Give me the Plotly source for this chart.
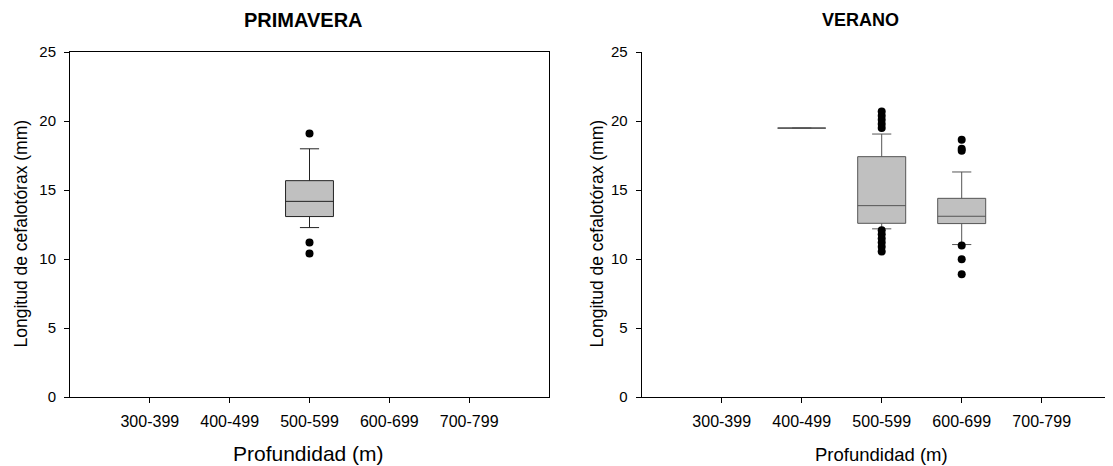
import plotly.graph_objects as go

W, H = 1113, 466

categories = ["300-399", "400-499", "500-599", "600-699", "700-799"]

# PRIMAVERA (spring): box stats per category
prim_cat = ["500-599"]
prim_q1 = [13.09]
prim_med = [14.19]
prim_q3 = [15.69]
prim_lo = [12.29]
prim_hi = [18.0]
prim_out = {"500-599": [19.11, 11.21, 10.41]}

# VERANO (summer)
ver_cat = ["400-499", "500-599", "600-699"]
ver_q1 = [19.5, 12.60, 12.58]
ver_med = [19.5, 13.88, 13.11]
ver_q3 = [19.5, 17.43, 14.41]
ver_lo = [19.5, 12.2, 11.06]
ver_hi = [19.5, 19.07, 16.32]
ver_out = {
    "500-599": [20.7, 20.4, 20.1, 19.8, 19.5, 12.1, 11.8, 11.5, 11.2, 10.9, 10.55],
    "600-699": [18.65, 18.0, 17.85, 11.0, 10.0, 8.9],
}

yticks = [0, 5, 10, 15, 20, 25]

FONT = "Arial, Liberation Sans, sans-serif"

# effective drawing canvas inside the page (observed): offset and size
X0, Y0, CW, CH = 8, 16, 1113, 450


def fx(px):
    return (px - X0) / CW


def fy(py):
    return 1 - (py - Y0) / CH


def pos(c):
    return categories.index(c) + 1


fig = go.Figure()


def add_panel(cats, q1, med, q3, lo, hi, outs, xa, ya, lcol):
    fig.add_trace(go.Box(
        x=[pos(c) for c in cats], q1=q1, median=med, q3=q3,
        lowerfence=lo, upperfence=hi, width=0.6, whiskerwidth=0.4,
        fillcolor="#C0C0C0", line=dict(color=lcol, width=1),
        boxpoints=False, xaxis=xa, yaxis=ya, showlegend=False,
        hoverinfo="skip"))
    ox, oy = [], []
    for c, vals in outs.items():
        for v in vals:
            ox.append(pos(c))
            oy.append(v)
    fig.add_trace(go.Scatter(
        x=ox, y=oy, mode="markers",
        marker=dict(color="black", size=8), xaxis=xa, yaxis=ya,
        showlegend=False, hoverinfo="skip"))


add_panel(prim_cat, prim_q1, prim_med, prim_q3, prim_lo, prim_hi, prim_out, "x", "y", "#222222")
add_panel(ver_cat, ver_q1, ver_med, ver_q3, ver_lo, ver_hi, ver_out, "x2", "y2", "#555555")

ydom = [fy(397), fy(51.3)]
xdom1 = [fx(70), fx(549)]
xdom2 = [fx(641.7), 1.0]


def axis_common(size, standoff):
    return dict(showgrid=False, zeroline=False, showline=True,
                linecolor="black", linewidth=1, ticks="outside",
                ticklen=5, tickcolor="black", ticklabelstandoff=standoff,
                tickfont=dict(family=FONT, size=size, color="black"))


fig.update_layout(
    width=W, height=H, margin=dict(l=0, r=0, t=0, b=0),
    paper_bgcolor="white", plot_bgcolor="white",
    xaxis=dict(domain=xdom1, range=[0, 6], tickvals=[1, 2, 3, 4, 5],
               ticktext=categories, anchor="y", mirror=True, **axis_common(16, 5)),
    yaxis=dict(domain=ydom, range=[0, 25], tickvals=yticks, anchor="x",
               mirror=True, **axis_common(15, 5)),
    xaxis2=dict(domain=xdom2, range=[0, (X0 + CW - 641.7) / 80], tickvals=[1, 2, 3, 4, 5],
                ticktext=categories, anchor="y2", **axis_common(16, 5)),
    yaxis2=dict(domain=ydom, range=[0, 25], tickvals=yticks, anchor="x2",
                **axis_common(15, 5)),
)

ann = [
    dict(text="<b>PRIMAVERA</b>", x=303, y=19.5, size=20),
    dict(text="<b>VERANO</b>", x=860, y=19.5, size=18),
    dict(text="Profundidad (m)", x=308, y=453, size=21),
    dict(text="Profundidad (m)", x=881.5, y=454, size=18.5),
]
for a in ann:
    fig.add_annotation(text=a["text"], x=fx(a["x"]), y=fy(a["y"]), xref="paper", yref="paper",
                       showarrow=False, xanchor="center", yanchor="middle",
                       font=dict(family=FONT, size=a["size"], color="black"))

for xc in (21, 597):
    fig.add_annotation(text="Longitud de cefalotórax (mm)", x=fx(xc), y=fy(233),
                       xref="paper", yref="paper", showarrow=False, textangle=-90,
                       xanchor="center", yanchor="middle",
                       font=dict(family=FONT, size=17.5, color="black"))

fig.write_html("out.html")
